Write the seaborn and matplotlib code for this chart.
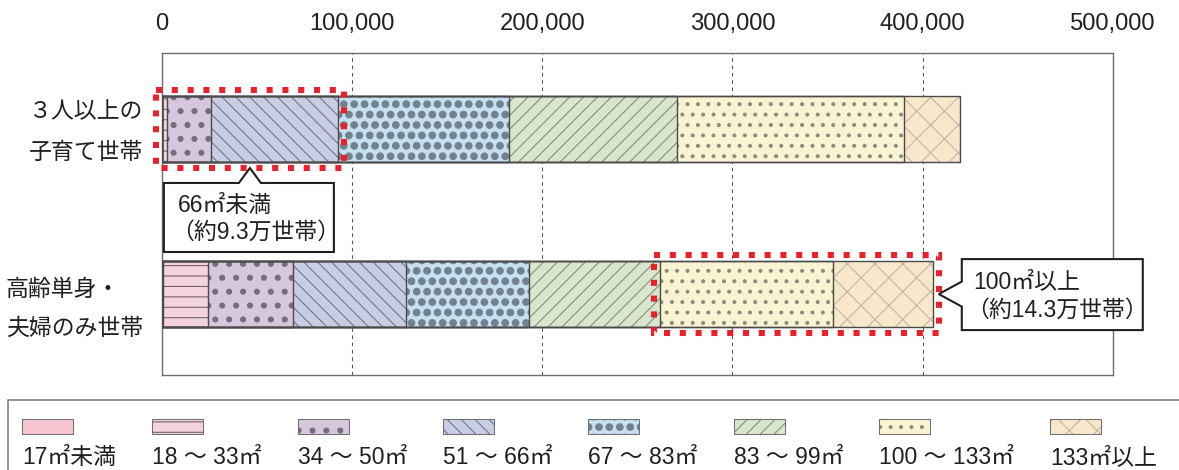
import numpy as np
import pandas as pd
import matplotlib
matplotlib.use("Agg")
import matplotlib.pyplot as plt
import matplotlib.hatch as mhatch
from matplotlib.patches import Rectangle, Polygon
from matplotlib.ticker import FuncFormatter
import seaborn as sns

# ---- data -------------------------------------------------------------
households = ["３人以上の\n子育て世帯", "高齢単身・\n夫婦のみ世帯"]
size_bands = ["17㎡未満", "18 ～ 33㎡", "34 ～ 50㎡", "51 ～ 66㎡",
              "67 ～ 83㎡", "83 ～ 99㎡", "100 ～ 133㎡", "133㎡以上"]
family3_counts = [0, 3000, 23200, 66700, 89900, 87900, 119500, 29400]
elderly_counts = [800, 23800, 44700, 59300, 64700, 68600, 90900, 52500]
x_ticks = [0, 100000, 200000, 300000, 400000, 500000]
small_note = ["66㎡未満", "（約9.3万世帯）"]
large_note = ["100㎡以上", "（約14.3万世帯）"]

# ---- styles -----------------------------------------------------------
face_colors = ["#f7c6d1", "#f2d3df", "#d6c7dc", "#c9cde3",
               "#c6e0f1", "#d9e6cd", "#faf4d3", "#f9e7cc"]
hatch_colors = ["#9a7a84", "#6e5a62", "#776b7e", "#6c7189",
                "#71828e", "#7a8b76", "#8b8b7e", "#c2b29f"]
hatches = ["..", "----", "***", "\\" * 6, "OOOO", "/" * 6, "oooo", "xxx"]

# filled-dot hatch patterns of several sizes
mhatch.SmallCircles.filled = True
mhatch.SmallCircles.size = 0.14
mhatch.LargeCircles.filled = True
mhatch.LargeCircles.size = 0.32


class MediumDots(mhatch.Circles):
    size = 0.18
    filled = True

    def __init__(self, hatch, density):
        self.num_rows = hatch.count("*") * density
        super().__init__(hatch, density)


mhatch._hatch_types = [MediumDots if t is mhatch.Stars else t
                       for t in mhatch._hatch_types]

sns.set_theme(style="white")
plt.rcParams["font.family"] = ["Liberation Sans", "Noto Sans CJK JP"]
plt.rcParams["hatch.linewidth"] = 0.3
plt.rcParams["text.color"] = "#231f20"

TXT = "#231f20"
W, H, DPI = 1179, 470, 250
BAR_W = 0.4
FS = 6.6

df = pd.DataFrame({
    "household": np.repeat(households, len(size_bands)),
    "band": size_bands * len(households),
    "count": family3_counts + elderly_counts,
})
df["end"] = df.groupby("household", sort=False)["count"].cumsum()

fig = plt.figure(figsize=(W / DPI, H / DPI), dpi=DPI)
ax_left, ax_right, ax_top, ax_bottom = 161.5, 1113, 53, 375
ax = fig.add_axes([ax_left / W, 1 - ax_bottom / H,
                   (ax_right - ax_left) / W, (ax_bottom - ax_top) / H])

# stacked bars: cumulative layers, longest first
for band, fc, hc, hp in reversed(list(zip(size_bands, face_colors, hatch_colors, hatches))):
    sub = df[df["band"] == band]
    sns.barplot(data=sub, x="end", y="household", order=households, orient="h",
                color=fc, saturation=1, hatch=hp, edgecolor=hc, linewidth=0,
                width=BAR_W, errorbar=None, ax=ax, zorder=2)
for band in size_bands:
    sub = df[df["band"] == band]
    sns.barplot(data=sub, x="end", y="household", order=households, orient="h",
                fill=False, color="#4a4a4a", linewidth=0.4,
                width=BAR_W, errorbar=None, ax=ax, zorder=3)

XMAX = x_ticks[-1]
Y0, Y1 = 1.49, -0.46
ax.set_xlim(0, XMAX)
ax.set_ylim(Y0, Y1)
ax.set_xticks(x_ticks)
ax.xaxis.set_major_formatter(FuncFormatter(lambda v, _: f"{int(v):,}"))
ax.xaxis.tick_top()
ax.tick_params(axis="x", length=0, pad=5.2, labelsize=6.85, labelcolor=TXT)
ax.set_yticks([])
ax.set_xlabel("")
ax.set_ylabel("")
ax.grid(axis="x", color="#555555", linewidth=0.3, linestyle=(0, (3.5, 3.5)))
ax.set_axisbelow(True)
for s in ax.spines.values():
    s.set_visible(True)
    s.set_color("#6e6e6e")
    s.set_linewidth(0.4)

# household labels
fig.text(143 / W, 1 - 132 / H, households[0], ha="right", va="center",
         multialignment="left", linespacing=2.0, fontsize=FS, color=TXT)
fig.text(143 / W, 1 - 309 / H, households[1], ha="right", va="center",
         multialignment="left", linespacing=1.9, fontsize=FS, color=TXT)

# red dotted highlight frames
px_x = XMAX / (ax_right - ax_left)
px_y = (Y0 - Y1) / (ax_bottom - ax_top)
PAD = 6
fam = df[df["household"] == households[0]].reset_index(drop=True)
eld = df[df["household"] == households[1]].reset_index(drop=True)
small_total = fam.loc[3, "end"]
large_start = eld.loc[5, "end"]
large_end = eld.loc[7, "end"]


def highlight(x0, x1, row):
    ax.add_patch(Rectangle((x0 - PAD * px_x, row - BAR_W / 2 - PAD * px_y),
                           x1 - x0 + 2 * PAD * px_x, BAR_W + 2 * PAD * px_y,
                           fill=False, edgecolor="#e8212a", linewidth=1.75,
                           linestyle=(0, (1, 1.6)), clip_on=False, zorder=5))


highlight(0, small_total, 0)
highlight(large_start, large_end, 1)


def callout(tip, verts, lines):
    tx, ty = tip
    pts = [((tx + dx) / W, (ty - dy) / H) for dx, dy in verts]
    fig.add_artist(Polygon(pts, closed=True, transform=fig.transFigure,
                           facecolor="white", edgecolor="#231f20",
                           linewidth=0.6, joinstyle="miter", zorder=6))
    for (dx, dy), text in lines:
        fig.text((tx + dx) / W, (ty - dy) / H, text, ha="left", va="center",
                 fontsize=FS, color=TXT, zorder=7)


tip1 = ax.transData.transform((small_total / 2, BAR_W / 2 + PAD * px_y))
callout(tip1, [(-86, 15), (-11, 15), (0, 0), (11, 15), (84, 15), (84, 84), (-86, 84)],
        [((-72, 38), small_note[0]), ((-79, 64), small_note[1])])
tip2 = ax.transData.transform((large_end + PAD * px_x, 1))
callout(tip2, [(23, -35), (204, -35), (204, 36), (23, 36), (23, 12.5), (0, 0), (23, -12.5)],
        [((34, -12), large_note[0]), ((27, 16), large_note[1])])

# legend
fig.add_artist(Rectangle((8 / W, -0.1), 1.2, (1 - 400 / H) + 0.1,
                         transform=fig.transFigure, fill=False,
                         edgecolor="#7a7a7a", linewidth=0.45))
renderer = fig.canvas.get_renderer()
x = 22
for band, fc, hc, hp in zip(size_bands, face_colors, hatch_colors, hatches):
    box = ((x / W, 1 - 434 / H), 51 / W, 15 / H)
    fig.add_artist(Rectangle(*box, transform=fig.transFigure, facecolor=fc,
                             hatch=hp, edgecolor=hc, linewidth=0))
    fig.add_artist(Rectangle(*box, transform=fig.transFigure, fill=False,
                             edgecolor="#707070", linewidth=0.3))
    t = fig.text(x / W, 1 - 464 / H, band, ha="left", va="baseline",
                 fontsize=FS, color=TXT)
    x = t.get_window_extent(renderer).x1 + 36

fig.savefig("out.png", dpi=DPI)
